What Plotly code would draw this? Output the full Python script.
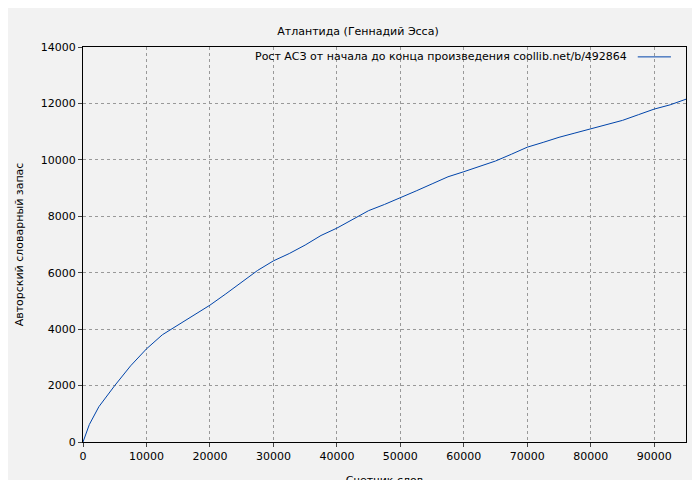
import plotly.graph_objects as go

words = [0, 500, 1000, 2500, 5000, 7500, 10000, 12500, 15000, 17500, 20000, 22500, 25000, 27500,
         30000, 32500, 35000, 37500, 40000, 42500, 45000, 47500, 50000, 52500, 55000,
         57500, 60000, 62500, 65000, 67500, 70000, 72500, 75000, 77500, 80000, 82500,
         85000, 87500, 90000, 92500, 95000]
vocab = [0, 350, 620, 1250, 2000, 2700, 3300, 3800, 4150, 4500, 4850, 5250, 5650, 6080,
         6420, 6680, 6980, 7320, 7580, 7900, 8200, 8420, 8650, 8900, 9150,
         9400, 9580, 9760, 9960, 10200, 10450, 10620, 10800, 10950, 11100, 11250,
         11400, 11600, 11800, 11950, 12150]
legend_text = "Рост АСЗ от начала до конца произведения coollib.net/b/492864"

fig = go.Figure(go.Scatter(x=words, y=vocab, mode="lines", line=dict(color="#0044aa", width=1),
                           name=legend_text, showlegend=False))
ax = dict(showline=True, linecolor="black", mirror=True, ticks="outside", ticklen=4,
          gridcolor="#999", griddash="dot", gridwidth=1, zeroline=False, automargin=False,
          tickformat="d", tickfont=dict(size=11, color="black"))
fig.update_layout(
    width=700, height=480, paper_bgcolor="#f2f2f2", plot_bgcolor="#f2f2f2",
    margin=dict(l=75, r=22, t=39, b=46),
    font=dict(family="DejaVu Sans", size=11, color="black"),
    title=dict(text="Атлантида (Геннадий Эсса)", x=0.5, y=0.96, xanchor="center", font=dict(size=11)),
    xaxis=dict(ax, range=[0, 95000], dtick=10000, title=dict(text="Счетчик слов", standoff=14, font=dict(size=11))),
    yaxis=dict(ax, range=[0, 14000], dtick=2000, title=dict(text="Авторский словарный запас", standoff=14, font=dict(size=11))),
)
fig.add_annotation(text=legend_text, xref="paper", yref="paper", x=0.905, y=0.975,
                   xanchor="right", yanchor="middle", showarrow=False, font=dict(size=11))
fig.add_shape(type="line", xref="paper", yref="paper", x0=0.92, x1=0.975, y0=0.975, y1=0.975,
              line=dict(color="#0044aa", width=1))
fig.write_html("out.html")
